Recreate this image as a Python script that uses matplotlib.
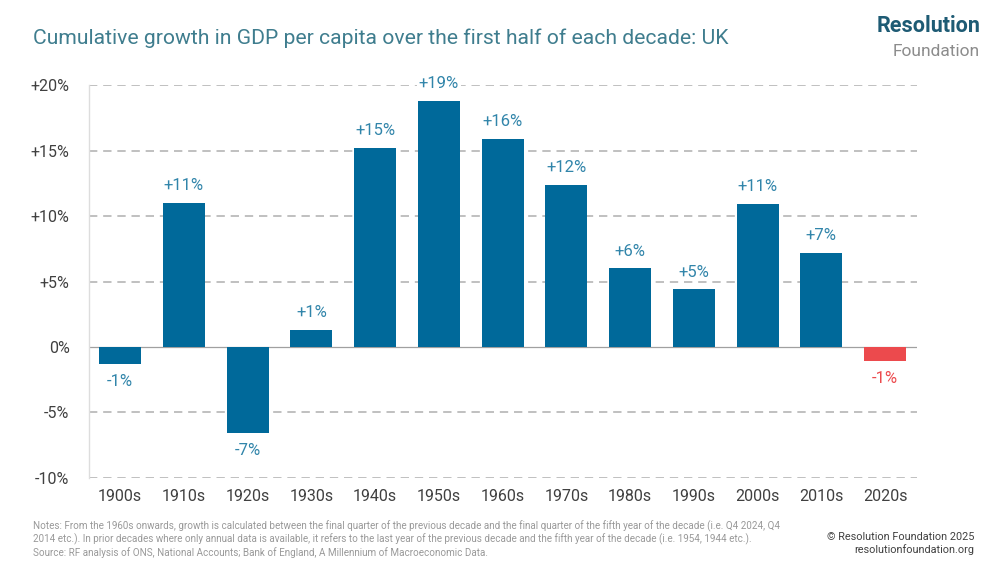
import matplotlib.pyplot as plt

# data
decades = ["1900s", "1910s", "1920s", "1930s", "1940s", "1950s", "1960s",
           "1970s", "1980s", "1990s", "2000s", "2010s", "2020s"]
growth = [-1.3, 11.0, -6.6, 1.3, 15.2, 18.8, 15.9, 12.4, 6.0, 4.4, 10.9, 7.2, -1.1]
labels = ["-1%", "+11%", "-7%", "+1%", "+15%", "+19%", "+16%",
          "+12%", "+6%", "+5%", "+11%", "+7%", "-1%"]
yticks = [-10, -5, 0, 5, 10, 15, 20]
ytick_labels = ["-10%", "-5%", "0%", "+5%", "+10%", "+15%", "+20%"]

BLUE = "#00699a"
RED = "#ec4a4d"
LABEL_BLUE = "#3185aa"
TITLE = "#3f7d8e"
TEXT = "#404040"
NOTE = "#999999"

plt.rcParams["font.family"] = ["Roboto", "DejaVu Sans"]

fig = plt.figure(figsize=(10, 5.63), dpi=100)
ax = fig.add_axes([0.089, 0.151, 0.828, 0.698])

colors = [BLUE] * (len(decades) - 1) + [RED]
label_colors = [LABEL_BLUE] * (len(decades) - 1) + [RED]
x = list(range(len(decades)))
ax.bar(x, growth, width=0.66, color=colors, zorder=3)

for xi, v, lab, c in zip(x, growth, labels, label_colors):
    off = 7 if v >= 0 else -7
    ax.annotate(lab, (xi, v), xytext=(0, off), textcoords="offset points",
                ha="center", va="bottom" if v >= 0 else "top", fontsize=12,
                color=c, zorder=4,
                bbox=dict(boxstyle="square,pad=0.1", fc="white", ec="none"))

ax.set_xlim(-0.49, 12.5)
ax.set_ylim(-10, 20)
ax.set_yticks(yticks)
ax.set_yticklabels(ytick_labels)
ax.set_xticks(x)
ax.set_xticklabels(decades)
ax.tick_params(length=0, labelsize=11.5, colors=TEXT)
ax.tick_params(axis="y", pad=14)
ax.tick_params(axis="x", pad=8)

for y in yticks:
    if y == 0:
        ax.axhline(0, color="#a0a0a0", linewidth=0.9, zorder=2)
    else:
        ax.axhline(y, color="#b5b5b5", linewidth=1.2, linestyle=(0, (5, 3.5)), zorder=1)

for s in ["top", "right", "bottom"]:
    ax.spines[s].set_visible(False)
ax.spines["left"].set_color("#dddddd")
ax.spines["left"].set_linewidth(1.0)

fig.text(0.033, 0.932, "Cumulative growth in GDP per capita over the first half of each decade: UK",
         fontsize=15.2, color=TITLE, va="center", ha="left")

# logo
fig.text(0.980, 0.943, "Resolution", fontsize=15.5, fontweight="bold", color="#1e5b74",
         ha="right", va="baseline")
fig.text(0.980, 0.900, "Foundation", fontsize=12.5, color="#8c8c8c", ha="right", va="baseline")

notes = ("Notes: From the 1960s onwards, growth is calculated between the final quarter of the previous decade "
         "and the final quarter of the fifth year of the decade (i.e. Q4 2024, Q4\n"
         "2014 etc.). In prior decades where only annual data is available, it refers to the last year of the "
         "previous decade and the fifth year of the decade (i.e. 1954, 1944 etc.).\n"
         "Source: RF analysis of ONS, National Accounts; Bank of England, A Millennium of Macroeconomic Data.")
fig.text(0.033, 0.043, notes, fontsize=7.15, color=NOTE, ha="left", va="center", linespacing=1.2)
fig.text(0.974, 0.035, "© Resolution Foundation 2025\nresolutionfoundation.org", fontsize=7.8,
         color=TEXT, ha="right", va="center", linespacing=1.3)

fig.savefig("out.png", dpi=100)
